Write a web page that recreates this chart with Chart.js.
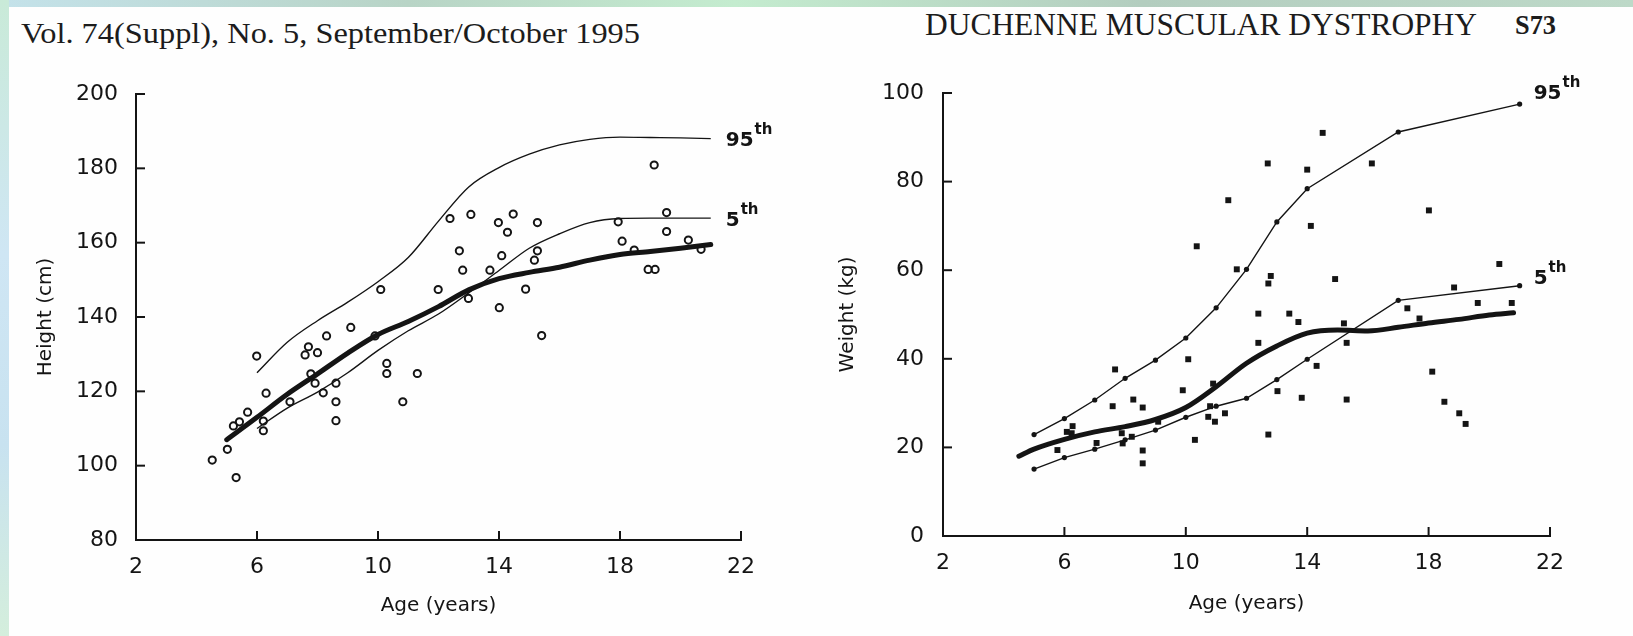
<!DOCTYPE html>
<html><head><meta charset="utf-8">
<script src="https://cdn.jsdelivr.net/npm/chart.js@4"></script>
<style>
html,body{margin:0;padding:0;}
body{width:1633px;height:636px;overflow:hidden;position:relative;background:linear-gradient(90deg,#c4e2ea 0%,#b8d4c6 25%,#c4eccf 45%,#b3cdbf 70%,#bdd9c8 100%);}
#leftband{position:absolute;left:0;top:0;width:9px;height:636px;background:linear-gradient(180deg,#c9ead8 0%,#cfe6f4 40%,#c8e2f0 70%,#d4eedc 100%);}
#page{position:absolute;left:9px;top:7px;right:0;bottom:0;background:#fefefe;}
.hdr{position:absolute;font-family:"Liberation Serif","Times New Roman",serif;color:#1c1c1c;white-space:nowrap;transform-origin:0 0;line-height:30px;}
canvas{position:absolute;}
</style></head>
<body>
<div id="leftband"></div>
<div id="page"></div>
<div class="hdr" id="h1" style="left:21px;top:18px;font-size:30px;">Vol. 74(Suppl), No. 5, September/October 1995</div>
<div class="hdr" id="h2" style="left:925px;top:10px;font-size:31px;">DUCHENNE MUSCULAR DYSTROPHY</div>
<div class="hdr" id="h3" style="left:1515px;top:10px;font-size:28px;font-weight:bold;">S73</div>
<canvas id="c1" width="800" height="576" style="left:0;top:60px;"></canvas>
<canvas id="c2" width="833" height="576" style="left:800px;top:60px;"></canvas>
<script>
// ---------- Height chart data ----------
const heightAges95 = [6,7,8,9,10,11,12,13,14,15,16,17,18,19,20,21];
const height95 = [125,133.2,139,144,149.5,156,165.8,175,180.2,183.8,186.3,187.8,188.4,188.3,188.2,188];
const heightAges5 = [6,7,8,9,10,11,12,13,14,15,16,17,18,19,20,21];
const height5 = [110,115.5,119.8,125,131,136.3,140.8,146.5,152.5,158.5,162.4,165.4,166.5,166.6,166.6,166.6];
const heightAgesMean = [5,6,7,8,9,10,11,12,13,14,15,16,17,18,19,20,21];
const heightMean = [107,113,119.2,124.7,130.3,135.3,138.8,142.8,147.3,150.3,152,153.4,155.3,156.8,157.6,158.5,159.5];
const heightObsAge = [4.52,5.02,5.31,5.22,5.42,5.69,5.99,6.21,6.21,6.3,7.09,7.59,7.7,8.0,8.3,7.78,7.92,8.19,8.61,8.61,8.61,9.1,9.9,10.09,10.29,10.29,10.82,11.3,11.99,12.38,12.69,12.8,13.07,12.99,13.7,13.98,14.09,14.28,14.01,14.47,15.27,15.27,15.17,14.88,15.41,17.94,18.07,18.47,19.13,19.54,19.54,18.93,19.16,20.26,20.68];
const heightObs = [101.5,104.4,96.8,110.7,111.8,114.4,129.5,112,109.4,119.5,117.2,129.8,132,130.4,134.9,124.7,122.2,119.6,122.2,117.2,112.1,137.2,134.9,147.4,127.5,124.8,117.2,124.8,147.4,166.5,157.8,152.6,167.6,145,152.6,165.4,156.5,162.8,142.5,167.7,165.4,157.8,155.3,147.5,135,165.6,160.4,158,180.9,168.1,163,152.8,152.8,160.7,158.2];
const heightTicksX = [2,6,10,14,18,22];
const heightTicksY = [80,100,120,140,160,180,200];

// ---------- Weight chart data ----------
const weightAgesPct = [5,6,7,8,9,10,11,12,13,14,17,21];
const weight95 = [22.9,26.5,30.7,35.6,39.7,44.7,51.5,60.2,70.9,78.4,91.2,97.5];
const weight5 = [15.1,17.7,19.6,21.7,23.9,26.8,29.3,31.1,35.3,39.9,53.2,56.5];
const weightAgesMean = [4.5,5,6,7,8,9,10,11,12,13,14,15,16,17,18,19,20,20.8];
const weightMean = [18,19.6,21.8,23.5,24.7,26.3,29,33.7,39,42.9,45.8,46.5,46.3,47.1,48.1,48.9,49.9,50.4];
const weightObsAge = [7.67,7.59,8.27,8.58,8.58,8.58,9.9,10.08,10.3,6.27,6.08,6.24,5.77,7.06,7.92,8.22,7.89,9.09,10.9,10.8,10.74,10.96,11.29,11.4,10.36,12.7,14.0,14.51,14.12,16.13,12.8,12.72,14.92,12.39,13.41,13.71,15.21,15.3,12.39,18.01,20.33,18.84,17.3,17.7,19.62,20.74,11.68,14.31,13.02,13.82,15.3,12.72,18.12,18.52,19.01,19.22];
const weightObs = [37.6,29.3,30.8,29.0,19.3,16.4,32.9,39.9,21.7,24.8,23.5,23.2,19.4,21.0,20.9,22.4,23.2,25.8,34.4,29.3,26.9,25.8,27.7,75.8,65.4,84.1,82.7,91.0,70.0,84.1,58.7,57.0,58.0,50.2,50.2,48.3,48.0,43.6,43.6,73.5,61.4,56.1,51.4,49.1,52.6,52.6,60.2,38.4,32.7,31.2,30.8,22.9,37.1,30.3,27.7,25.3];
const weightTicksX = [2,6,10,14,18,22];
const weightTicksY = [0,20,40,60,80,100];

// ---------- helpers ----------
const pts = (xs, ys) => xs.map((x, i) => ({x: x, y: ys[i]}));
const INK = '#141414';
const FONT = '"DejaVu Sans", "Liberation Sans", sans-serif';

const inTicks = {
  id: 'inTicks',
  afterDraw(chart) {
    const {ctx, chartArea: a} = chart;
    const xs = chart.scales.x, ys = chart.scales.y;
    ctx.save();
    ctx.strokeStyle = INK; ctx.lineWidth = 2;
    xs.ticks.forEach(t => { const p = xs.getPixelForValue(t.value); ctx.beginPath(); ctx.moveTo(p, a.bottom); ctx.lineTo(p, a.bottom - 9); ctx.stroke(); });
    ys.ticks.forEach(t => { const p = ys.getPixelForValue(t.value); ctx.beginPath(); ctx.moveTo(a.left, p); ctx.lineTo(a.left + 9, p); ctx.stroke(); });
    ctx.restore();
  }
};

const tags = {
  id: 'tags',
  afterDatasetsDraw(chart) {
    const ctx = chart.ctx;
    chart.data.datasets.forEach((ds, i) => {
      if (!ds.tag) return;
      const meta = chart.getDatasetMeta(i);
      const pt = meta.data[meta.data.length - 1];
      const x = pt.x + ds.tagDx, y = pt.y + ds.tagDy;
      ctx.save();
      ctx.fillStyle = INK;
      ctx.textAlign = 'left'; ctx.textBaseline = 'alphabetic';
      ctx.font = 'bold 20px ' + FONT;
      ctx.fillText(ds.tag, x, y + 7.5);
      const w = ctx.measureText(ds.tag).width;
      ctx.font = 'bold 15px ' + FONT;
      ctx.fillText('th', x + w + 1, y - 4.5);
      ctx.restore();
    });
  }
};

function axis(min, max, ticks, title, isX, fit, tickPad, titlePad) {
  return {
    type: 'linear', min: min, max: max,
    afterBuildTicks(s) { s.ticks = ticks.map(v => ({value: v})); },
    ticks: {font: {family: FONT, size: 22}, color: INK, padding: tickPad, maxRotation: 0, autoSkip: false},
    grid: {display: false},
    border: {display: true, color: INK, width: 2},
    title: {display: true, text: title, color: INK, font: {family: FONT, size: 20}, padding: titlePad},
    afterFit(s) { if (isX) s.height = fit; else s.width = fit; }
  };
}

function build(id, datasets, xAxis, yAxis, pad) {
  return new Chart(document.getElementById(id), {
    type: 'line',
    data: {datasets: datasets},
    options: {
      responsive: false, animation: false, events: [],
      layout: {padding: pad},
      plugins: {legend: {display: false}, tooltip: {enabled: false}},
      scales: {x: xAxis, y: yAxis}
    },
    plugins: [inTicks, tags]
  });
}

function start() {
  // headers fitted to the reference widths
  [['h1', 619], ['h2', 552], ['h3', 41]].forEach(([id, w]) => {
    const el = document.getElementById(id);
    const r = el.getBoundingClientRect().width;
    el.style.transform = 'scaleX(' + (w / r) + ')';
  });

  build('c1', [
    {type: 'scatter', data: pts(heightObsAge, heightObs), showLine: false, pointStyle: 'circle', pointRadius: 3.6, pointBorderWidth: 2, pointBorderColor: INK, pointBackgroundColor: 'rgba(255,255,255,0)'},
    {data: pts(heightAges95, height95), borderColor: INK, borderWidth: 1.4, pointRadius: 0, cubicInterpolationMode: 'monotone', fill: false, tag: '95', tagDx: 15, tagDy: 0},
    {data: pts(heightAges5, height5), borderColor: INK, borderWidth: 1.4, pointRadius: 0, cubicInterpolationMode: 'monotone', fill: false, tag: '5', tagDx: 15, tagDy: 0},
    {data: pts(heightAgesMean, heightMean), borderColor: INK, borderWidth: 5, pointRadius: 0, cubicInterpolationMode: 'monotone', fill: false, borderCapStyle: 'round'}
  ],
  axis(2, 22, heightTicksX, 'Age (years)', true, 96, 6, {top: 0, bottom: 18}),
  axis(80, 200, heightTicksY, 'Height (cm)', false, 136, 10, {top: 34, bottom: 0}),
  {top: 34, right: 59, left: 0, bottom: 0});

  build('c2', [
    {type: 'scatter', data: pts(weightObsAge, weightObs), showLine: false, pointStyle: 'rect', pointRadius: 4.2, pointBorderWidth: 0, pointBackgroundColor: INK, pointBorderColor: INK},
    {data: pts(weightAgesPct, weight95), borderColor: INK, borderWidth: 1.4, pointRadius: 2.6, pointBackgroundColor: INK, pointBorderWidth: 0, tension: 0, fill: false, tag: '95', tagDx: 14, tagDy: -13},
    {data: pts(weightAgesPct, weight5), borderColor: INK, borderWidth: 1.4, pointRadius: 2.6, pointBackgroundColor: INK, pointBorderWidth: 0, tension: 0, fill: false, tag: '5', tagDx: 14, tagDy: -9},
    {data: pts(weightAgesMean, weightMean), borderColor: INK, borderWidth: 5, pointRadius: 0, cubicInterpolationMode: 'monotone', fill: false, borderCapStyle: 'round'}
  ],
  axis(2, 22, weightTicksX, 'Age (years)', true, 100, 6, {top: 0, bottom: 20}),
  axis(0, 100, weightTicksY, 'Weight (kg)', false, 143, 11, {top: 36, bottom: 0}),
  {top: 33, right: 83, left: 0, bottom: 0});
}

if (document.fonts && document.fonts.ready) { document.fonts.ready.then(start); } else { start(); }
</script>
</body></html>
